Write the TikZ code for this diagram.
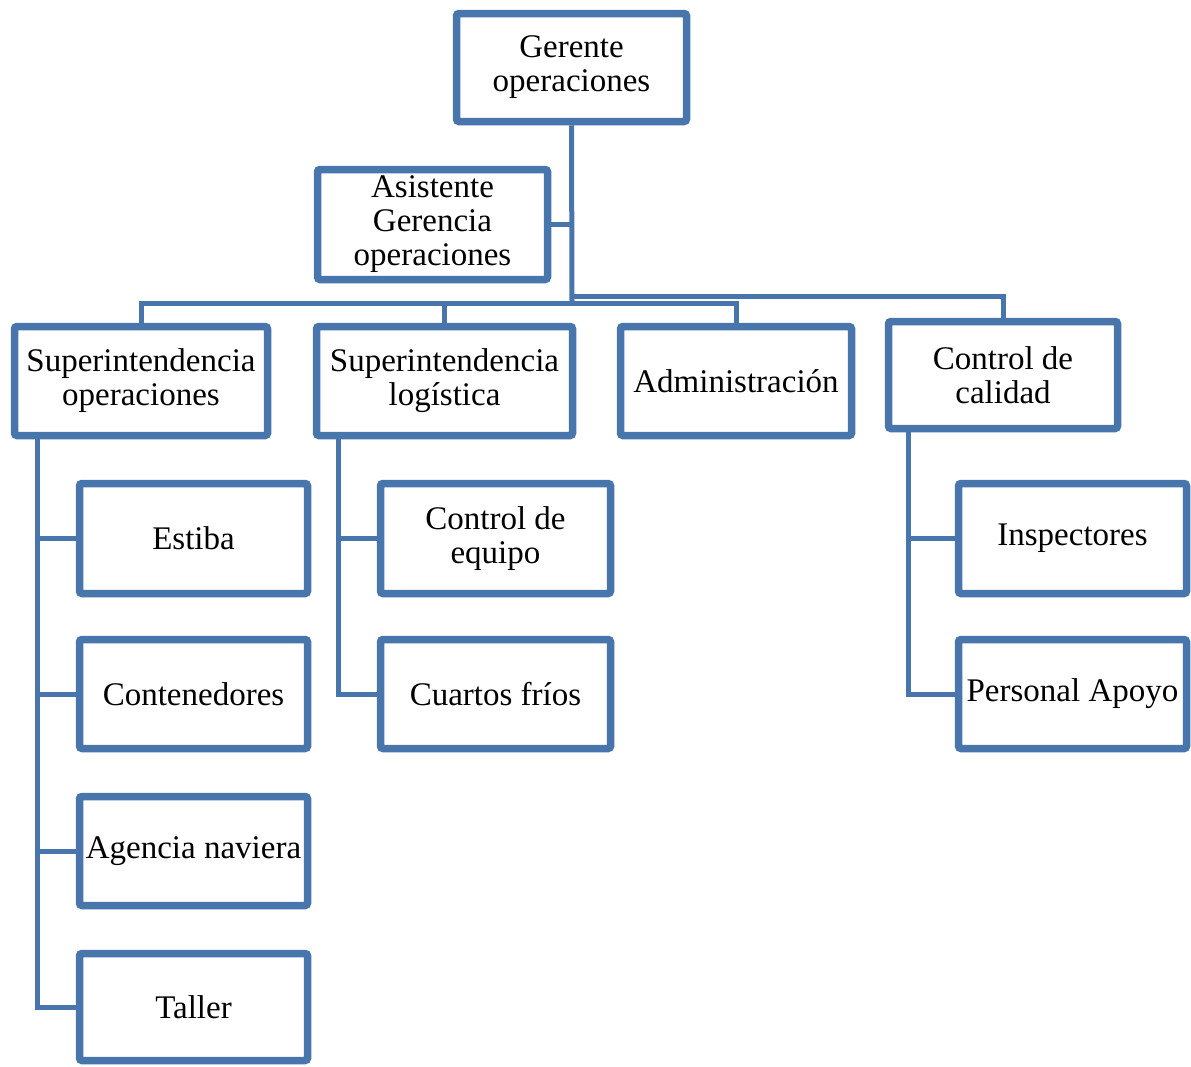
\documentclass[tikz,border=0pt]{standalone}
\usepackage{fontspec}
\setmainfont{Liberation Serif}
\usetikzlibrary{calc,shadows}
\definecolor{orgblue}{RGB}{72,117,172}
\begin{document}
\begin{tikzpicture}[x=1pt,y=-1pt,
  box/.style={draw=orgblue, line width=7.5pt, fill=white, rounded corners=2.5pt,
    align=center, inner sep=2pt, font=\fontsize{33}{34}\selectfont,
    drop shadow={shadow xshift=2pt, shadow yshift=-2pt, opacity=0.25, fill=black}},
  link/.style={draw=orgblue, line width=5pt}]
\useasboundingbox (0,0) rectangle (1191,1066);
\coordinate (bus) at (572,303);
\coordinate (bus2) at (572,296);
% nodes
\node[box, minimum width=230pt, minimum height=108pt] (ger) at (571.5,67.5) {Gerente\\operaciones};
\node[box, minimum width=230pt, minimum height=110pt] (asis) at (432.5,224.5) {Asistente\\Gerencia\\operaciones};
\node[box, minimum width=253pt, minimum height=109pt] (supop) at (141,381) {Superintendencia\\operaciones};
\node[box, minimum width=256pt, minimum height=109pt] (suplog) at (444.5,381) {Superintendencia\\logística};
\node[box, minimum width=231pt, minimum height=109pt] (adm) at (736,381) {Administración};
\node[box, minimum width=229pt, minimum height=107pt] (cdc) at (1003,375) {Control de\\calidad};
\node[box, minimum width=228pt, minimum height=110pt] (estiba) at (193.5,538.5) {Estiba};
\node[box, minimum width=228pt, minimum height=109pt] (cont) at (193.5,694) {Contenedores};
\node[box, minimum width=228pt, minimum height=109pt] (agen) at (193.5,851) {Agencia naviera};
\node[box, minimum width=228pt, minimum height=107pt] (taller) at (193.5,1007) {Taller};
\node[box, minimum width=230pt, minimum height=110pt] (ceq) at (495.5,538.5) {Control de\\equipo};
\node[box, minimum width=230pt, minimum height=109pt] (cfrios) at (495.5,694) {Cuartos fríos};
\node[box, minimum width=228pt, minimum height=110pt] (insp) at (1072.5,538.5) {Inspectores};
\node[box, minimum width=228pt, minimum height=109pt] (papoyo) at (1072.5,694) {Personal Apoyo};
% connectors
\path[link] (ger.south) -- (bus);
\path[link] (asis.east) -- (asis.east -| ger.south);
\path[link] (bus2) -| (cdc.north);
\path[link] (supop.north) |- (bus);
\path[link] (suplog.north) |- (bus);
\path[link] (adm.north) |- (bus);
\path[link] ($(supop.south west)+(26.5,0)$) |- (estiba.west);
\path[link] ($(supop.south west)+(26.5,0)$) |- (cont.west);
\path[link] ($(supop.south west)+(26.5,0)$) |- (agen.west);
\path[link] ($(supop.south west)+(26.5,0)$) |- (taller.west);
\path[link] ($(suplog.south west)+(25.5,0)$) |- (ceq.west);
\path[link] ($(suplog.south west)+(25.5,0)$) |- (cfrios.west);
\path[link] ($(cdc.south west)+(23.5,0)$) |- (insp.west);
\path[link] ($(cdc.south west)+(23.5,0)$) |- (papoyo.west);
\end{tikzpicture}
\end{document}
